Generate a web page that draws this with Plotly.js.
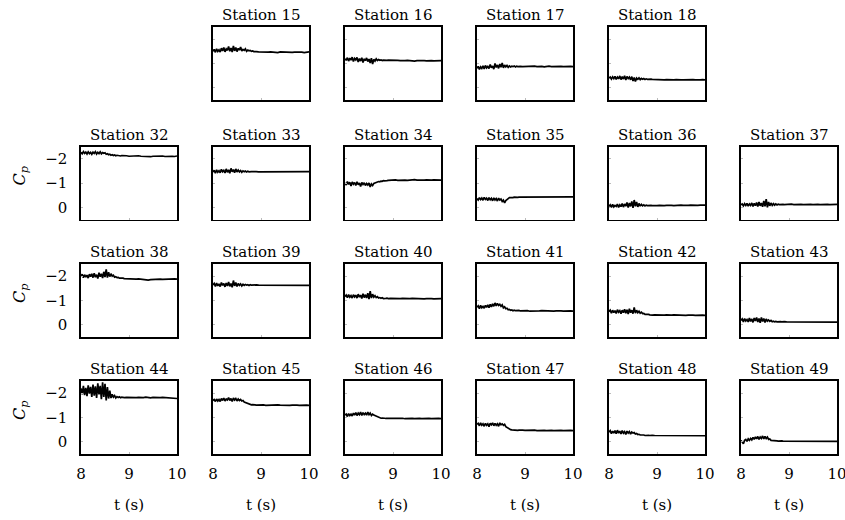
<!DOCTYPE html>
<html>
<head>
<meta charset="utf-8">
<script src="https://cdn.plot.ly/plotly-3.0.1.min.js"></script>
<style>html,body{margin:0;padding:0;background:#fff;}#chart{width:845px;height:520px;}</style>
</head>
<body>
<div id="chart"></div>
<script>
// time (s): dense during the noisy phase, coarser afterwards
const t = [8.000,8.025,8.050,8.075,8.100,8.125,8.150,8.175,8.200,8.225,8.250,8.275,8.300,8.325,8.350,8.375,8.400,8.425,
           8.450,8.475,8.500,8.525,8.550,8.575,8.600,8.625,8.650,8.675,8.700,8.725,8.750,8.775,8.800,8.825,8.850,8.875,
           8.90,8.95,9.00,9.05,9.10,9.15,9.20,9.25,9.30,9.35,9.40,9.45,9.50,9.55,9.60,9.65,9.70,9.75,9.80,9.85,9.90,9.95,10.00];

const xTicks = [8, 9, 10];
const yTicks = [-2, -1, 0];

// Cp series per station
const s15 = [-1.50,-1.58,-1.46,-1.60,-1.50,-1.56,-1.47,-1.63,-1.52,-1.66,-1.48,-1.60,-1.54,-1.70,-1.50,-1.64,-1.47,-1.72,
  -1.52,-1.66,-1.49,-1.62,-1.55,-1.68,-1.51,-1.58,-1.54,-1.60,-1.50,-1.55,-1.52,-1.54,-1.50,-1.52,-1.49,-1.50,
  -1.49,-1.48,-1.47,-1.48,-1.46,-1.47,-1.48,-1.46,-1.47,-1.45,-1.48,-1.47,-1.46,-1.48,-1.47,-1.46,-1.47,-1.48,-1.46,-1.47,-1.45,-1.47,-1.48];
const s16 = [-1.20,-1.13,-1.24,-1.10,-1.22,-1.14,-1.26,-1.08,-1.21,-1.15,-1.25,-1.06,-1.20,-1.10,-1.24,-1.04,-1.19,-1.12,
  -1.23,-1.08,-1.18,-1.02,-1.22,-0.98,-1.17,-1.10,-1.19,-1.12,-1.16,-1.13,-1.15,-1.12,-1.14,-1.13,-1.14,-1.13,
  -1.14,-1.13,-1.12,-1.11,-1.13,-1.12,-1.11,-1.12,-1.13,-1.11,-1.12,-1.10,-1.12,-1.13,-1.11,-1.12,-1.11,-1.13,-1.12,-1.11,-1.12,-1.13,-1.12];
const s17 = [-0.80,-0.88,-0.76,-0.86,-0.80,-0.90,-0.78,-0.92,-0.82,-0.88,-0.79,-0.96,-0.83,-0.90,-0.77,-1.00,-0.84,-0.94,
  -0.80,-0.98,-0.85,-1.02,-0.82,-0.94,-0.86,-0.92,-0.84,-0.90,-0.86,-0.89,-0.87,-0.90,-0.86,-0.89,-0.87,-0.88,
  -0.88,-0.87,-0.88,-0.89,-0.87,-0.88,-0.89,-0.87,-0.88,-0.88,-0.86,-0.88,-0.89,-0.87,-0.88,-0.87,-0.89,-0.88,-0.87,-0.88,-0.89,-0.88,-0.87];
const s18 = [-0.40,-0.44,-0.36,-0.45,-0.38,-0.47,-0.35,-0.44,-0.37,-0.49,-0.34,-0.46,-0.36,-0.50,-0.32,-0.47,-0.38,-0.44,
  -0.33,-0.46,-0.28,-0.42,-0.26,-0.40,-0.35,-0.41,-0.34,-0.39,-0.35,-0.38,-0.34,-0.37,-0.35,-0.36,-0.34,-0.36,
  -0.35,-0.34,-0.33,-0.34,-0.32,-0.33,-0.34,-0.33,-0.32,-0.33,-0.34,-0.32,-0.33,-0.33,-0.34,-0.32,-0.33,-0.34,-0.33,-0.32,-0.33,-0.34,-0.33];
const s32 = [-2.26,-2.20,-2.29,-2.22,-2.27,-2.19,-2.28,-2.21,-2.26,-2.18,-2.27,-2.22,-2.29,-2.19,-2.26,-2.21,-2.28,-2.20,
  -2.25,-2.22,-2.24,-2.18,-2.20,-2.16,-2.18,-2.14,-2.16,-2.13,-2.15,-2.12,-2.14,-2.12,-2.13,-2.11,-2.13,-2.12,
  -2.11,-2.12,-2.10,-2.11,-2.09,-2.10,-2.12,-2.10,-2.09,-2.11,-2.10,-2.08,-2.10,-2.11,-2.09,-2.10,-2.11,-2.09,-2.10,-2.12,-2.10,-2.09,-2.11];
const s33 = [-1.45,-1.52,-1.40,-1.54,-1.44,-1.50,-1.42,-1.56,-1.46,-1.52,-1.41,-1.58,-1.44,-1.54,-1.40,-1.60,-1.46,-1.55,
  -1.42,-1.58,-1.45,-1.53,-1.46,-1.51,-1.44,-1.50,-1.46,-1.49,-1.45,-1.48,-1.46,-1.48,-1.47,-1.47,-1.46,-1.48,
  -1.47,-1.46,-1.46,-1.47,-1.45,-1.46,-1.47,-1.45,-1.46,-1.44,-1.46,-1.47,-1.45,-1.46,-1.47,-1.45,-1.46,-1.44,-1.46,-1.47,-1.46,-1.45,-1.47];
const s34 = [-1.00,-0.92,-1.06,-0.94,-1.03,-0.88,-1.04,-0.95,-1.02,-0.90,-1.05,-0.93,-1.00,-0.86,-1.02,-0.94,-1.01,-0.90,
  -0.98,-0.92,-1.00,-0.84,-0.96,-0.90,-0.98,-1.00,-1.03,-1.02,-1.06,-1.05,-1.08,-1.07,-1.10,-1.09,-1.11,-1.10,
  -1.11,-1.12,-1.12,-1.13,-1.11,-1.12,-1.13,-1.12,-1.11,-1.13,-1.12,-1.14,-1.12,-1.11,-1.13,-1.12,-1.13,-1.11,-1.12,-1.13,-1.12,-1.14,-1.12];
const s35 = [-0.36,-0.30,-0.40,-0.32,-0.38,-0.29,-0.41,-0.33,-0.38,-0.28,-0.40,-0.31,-0.37,-0.27,-0.39,-0.30,-0.36,-0.26,
  -0.38,-0.30,-0.34,-0.24,-0.30,-0.18,-0.28,-0.34,-0.36,-0.40,-0.39,-0.41,-0.40,-0.42,-0.41,-0.42,-0.41,-0.42,
  -0.42,-0.43,-0.43,-0.44,-0.42,-0.43,-0.44,-0.43,-0.42,-0.43,-0.44,-0.43,-0.42,-0.44,-0.43,-0.42,-0.43,-0.44,-0.43,-0.42,-0.43,-0.44,-0.43];
const s36 = [-0.04,-0.10,0.00,-0.12,-0.02,-0.08,-0.04,-0.13,0.00,-0.10,-0.03,-0.16,-0.01,-0.14,-0.05,-0.20,0.01,-0.18,
  -0.04,-0.24,0.02,-0.30,-0.04,-0.22,-0.02,-0.16,-0.05,-0.12,-0.06,-0.10,-0.06,-0.09,-0.07,-0.08,-0.06,-0.08,
  -0.07,-0.06,-0.07,-0.08,-0.06,-0.07,-0.08,-0.09,-0.08,-0.07,-0.08,-0.10,-0.09,-0.08,-0.07,-0.08,-0.09,-0.08,-0.07,-0.08,-0.09,-0.08,-0.09];
const s37 = [-0.10,-0.14,-0.06,-0.15,-0.08,-0.16,-0.05,-0.14,-0.08,-0.18,-0.04,-0.16,-0.07,-0.20,-0.03,-0.22,-0.06,-0.18,
  -0.02,-0.26,-0.04,-0.34,0.00,-0.22,-0.06,-0.18,-0.08,-0.15,-0.09,-0.14,-0.10,-0.13,-0.11,-0.12,-0.10,-0.12,
  -0.11,-0.12,-0.12,-0.13,-0.11,-0.12,-0.13,-0.12,-0.11,-0.12,-0.13,-0.12,-0.11,-0.13,-0.12,-0.11,-0.12,-0.13,-0.12,-0.11,-0.12,-0.13,-0.12];
const s38 = [-2.00,-2.08,-1.94,-2.06,-1.96,-2.04,-1.92,-2.08,-1.98,-2.10,-1.94,-2.12,-1.96,-2.06,-1.90,-2.14,-1.98,-2.10,
  -1.92,-2.18,-1.96,-2.28,-1.94,-2.16,-1.98,-2.10,-2.00,-2.04,-1.96,-1.98,-1.94,-1.95,-1.92,-1.93,-1.91,-1.92,
  -1.90,-1.89,-1.88,-1.89,-1.87,-1.88,-1.89,-1.87,-1.88,-1.86,-1.84,-1.86,-1.87,-1.88,-1.89,-1.88,-1.87,-1.88,-1.89,-1.87,-1.88,-1.89,-1.88];
const s39 = [-1.64,-1.70,-1.58,-1.72,-1.60,-1.68,-1.57,-1.74,-1.62,-1.70,-1.56,-1.72,-1.60,-1.76,-1.58,-1.70,-1.54,-1.82,
  -1.60,-1.74,-1.58,-1.70,-1.62,-1.68,-1.60,-1.67,-1.62,-1.66,-1.63,-1.65,-1.62,-1.65,-1.63,-1.64,-1.63,-1.65,
  -1.64,-1.63,-1.63,-1.64,-1.62,-1.63,-1.64,-1.62,-1.63,-1.64,-1.63,-1.62,-1.64,-1.63,-1.62,-1.63,-1.64,-1.63,-1.62,-1.63,-1.64,-1.63,-1.62];
const s40 = [-1.16,-1.22,-1.12,-1.24,-1.14,-1.20,-1.10,-1.24,-1.15,-1.22,-1.10,-1.26,-1.14,-1.22,-1.08,-1.28,-1.12,-1.24,
  -1.10,-1.30,-1.06,-1.38,-1.10,-1.26,-1.14,-1.20,-1.12,-1.16,-1.10,-1.12,-1.09,-1.11,-1.08,-1.10,-1.09,-1.10,
  -1.08,-1.09,-1.08,-1.09,-1.07,-1.08,-1.09,-1.08,-1.07,-1.08,-1.09,-1.08,-1.07,-1.09,-1.08,-1.07,-1.08,-1.09,-1.08,-1.07,-1.08,-1.09,-1.08];
const s41 = [-0.72,-0.78,-0.66,-0.80,-0.70,-0.76,-0.68,-0.80,-0.72,-0.82,-0.70,-0.84,-0.74,-0.86,-0.76,-0.90,-0.78,-0.88,
  -0.80,-0.84,-0.76,-0.82,-0.70,-0.74,-0.66,-0.68,-0.62,-0.63,-0.60,-0.61,-0.58,-0.60,-0.58,-0.59,-0.57,-0.59,
  -0.57,-0.58,-0.57,-0.58,-0.56,-0.57,-0.58,-0.56,-0.57,-0.58,-0.57,-0.56,-0.58,-0.57,-0.56,-0.57,-0.58,-0.57,-0.56,-0.57,-0.58,-0.57,-0.56];
const s42 = [-0.54,-0.60,-0.48,-0.60,-0.50,-0.58,-0.47,-0.62,-0.52,-0.58,-0.46,-0.60,-0.50,-0.64,-0.48,-0.62,-0.44,-0.66,
  -0.50,-0.60,-0.46,-0.72,-0.48,-0.60,-0.50,-0.56,-0.48,-0.52,-0.46,-0.47,-0.43,-0.44,-0.42,-0.43,-0.41,-0.42,
  -0.40,-0.41,-0.40,-0.41,-0.39,-0.40,-0.41,-0.39,-0.40,-0.41,-0.40,-0.39,-0.41,-0.40,-0.39,-0.40,-0.41,-0.40,-0.39,-0.40,-0.41,-0.40,-0.39];
const s43 = [-0.18,-0.24,-0.12,-0.26,-0.16,-0.22,-0.12,-0.28,-0.14,-0.24,-0.10,-0.28,-0.16,-0.30,-0.12,-0.26,-0.08,-0.30,
  -0.14,-0.26,-0.10,-0.24,-0.15,-0.20,-0.14,-0.18,-0.13,-0.15,-0.12,-0.14,-0.12,-0.13,-0.12,-0.13,-0.12,-0.13,
  -0.13,-0.12,-0.12,-0.13,-0.11,-0.12,-0.13,-0.11,-0.12,-0.13,-0.12,-0.11,-0.13,-0.12,-0.11,-0.12,-0.13,-0.12,-0.11,-0.12,-0.13,-0.12,-0.11];
const s44 = [-2.20,-1.95,-2.30,-1.92,-2.22,-1.88,-2.32,-1.98,-2.26,-1.85,-2.35,-1.90,-2.28,-1.80,-2.40,-1.95,-2.30,-1.75,
  -2.45,-1.85,-2.38,-1.70,-2.25,-1.78,-2.10,-1.80,-1.95,-1.84,-1.90,-1.80,-1.86,-1.82,-1.85,-1.81,-1.84,-1.82,
  -1.82,-1.83,-1.82,-1.83,-1.81,-1.82,-1.83,-1.81,-1.82,-1.84,-1.82,-1.81,-1.83,-1.82,-1.81,-1.82,-1.83,-1.82,-1.80,-1.78,-1.80,-1.76,-1.78];
const s45 = [-1.70,-1.74,-1.66,-1.76,-1.68,-1.74,-1.66,-1.78,-1.70,-1.80,-1.68,-1.76,-1.72,-1.82,-1.70,-1.78,-1.66,-1.80,
  -1.72,-1.78,-1.68,-1.76,-1.70,-1.74,-1.68,-1.70,-1.64,-1.62,-1.58,-1.56,-1.54,-1.53,-1.52,-1.53,-1.51,-1.52,
  -1.51,-1.52,-1.51,-1.52,-1.50,-1.51,-1.52,-1.50,-1.51,-1.52,-1.51,-1.50,-1.52,-1.51,-1.50,-1.51,-1.52,-1.51,-1.50,-1.51,-1.52,-1.51,-1.50];
const s46 = [-1.10,-1.14,-1.04,-1.16,-1.08,-1.14,-1.06,-1.18,-1.10,-1.20,-1.08,-1.18,-1.12,-1.22,-1.08,-1.20,-1.12,-1.18,
  -1.10,-1.22,-1.12,-1.18,-1.08,-1.14,-1.10,-1.08,-1.04,-1.02,-0.99,-0.98,-0.97,-0.98,-0.96,-0.97,-0.96,-0.97,
  -0.96,-0.97,-0.96,-0.97,-0.95,-0.96,-0.97,-0.95,-0.96,-0.97,-0.96,-0.95,-0.97,-0.96,-0.95,-0.96,-0.97,-0.96,-0.95,-0.96,-0.97,-0.96,-0.95];
const s47 = [-0.72,-0.76,-0.66,-0.78,-0.68,-0.74,-0.64,-0.76,-0.68,-0.74,-0.62,-0.76,-0.70,-0.78,-0.66,-0.76,-0.68,-0.74,
  -0.64,-0.78,-0.70,-0.74,-0.68,-0.72,-0.62,-0.58,-0.54,-0.51,-0.50,-0.49,-0.48,-0.49,-0.47,-0.48,-0.47,-0.48,
  -0.47,-0.48,-0.47,-0.48,-0.46,-0.47,-0.48,-0.46,-0.47,-0.48,-0.47,-0.46,-0.48,-0.47,-0.46,-0.47,-0.48,-0.47,-0.46,-0.47,-0.48,-0.47,-0.46];
const s48 = [-0.40,-0.46,-0.34,-0.44,-0.36,-0.46,-0.33,-0.48,-0.36,-0.44,-0.32,-0.46,-0.36,-0.42,-0.30,-0.44,-0.36,-0.42,
  -0.32,-0.40,-0.36,-0.38,-0.32,-0.34,-0.30,-0.31,-0.28,-0.29,-0.27,-0.28,-0.26,-0.27,-0.26,-0.27,-0.26,-0.27,
  -0.27,-0.26,-0.26,-0.27,-0.25,-0.26,-0.27,-0.25,-0.26,-0.27,-0.26,-0.25,-0.27,-0.26,-0.25,-0.26,-0.27,-0.26,-0.25,-0.26,-0.27,-0.26,-0.25];
const s49 = [-0.06,0.04,0.08,-0.06,-0.10,-0.02,-0.12,-0.06,-0.14,-0.08,-0.18,-0.10,-0.20,-0.12,-0.22,-0.10,-0.20,-0.14,
  -0.24,-0.12,-0.22,-0.14,-0.20,-0.10,-0.12,-0.06,-0.05,-0.04,-0.05,-0.03,-0.04,-0.03,-0.04,-0.03,-0.04,-0.03,
  -0.03,-0.04,-0.03,-0.04,-0.02,-0.03,-0.04,-0.02,-0.03,-0.04,-0.03,-0.02,-0.04,-0.03,-0.02,-0.03,-0.04,-0.03,-0.02,-0.03,-0.04,-0.03,-0.02];

// station name, grid row, grid column, series
const stations = [
  ["Station 15",0,1,s15],["Station 16",0,2,s16],["Station 17",0,3,s17],["Station 18",0,4,s18],
  ["Station 32",1,0,s32],["Station 33",1,1,s33],["Station 34",1,2,s34],["Station 35",1,3,s35],["Station 36",1,4,s36],["Station 37",1,5,s37],
  ["Station 38",2,0,s38],["Station 39",2,1,s39],["Station 40",2,2,s40],["Station 41",2,3,s41],["Station 42",2,4,s42],["Station 43",2,5,s43],
  ["Station 44",3,0,s44],["Station 45",3,1,s45],["Station 46",3,2,s46],["Station 47",3,3,s47],["Station 48",3,4,s48],["Station 49",3,5,s49]
];

const W = 845, H = 520;
const colLeft = [81, 213, 345, 477, 609, 741];
const boxW = 96;
const rowTop = [27, 146.5, 264, 381];
const boxH = 73;
const serif = "DejaVu Serif";
const fs = 15;

const traces = [];
const layout = {
  width: W, height: H,
  margin: {l: 0, r: 0, t: 0, b: 0},
  paper_bgcolor: "#fff", plot_bgcolor: "#fff",
  showlegend: false,
  font: {family: serif, size: fs, color: "#000"},
  annotations: []
};

stations.forEach((s, i) => {
  const [name, r, c, y] = s;
  const n = i + 1;
  const xa = "x" + n, ya = "y" + n;
  traces.push({x: t, y: y, xaxis: xa, yaxis: ya, type: "scatter", mode: "lines",
               line: {color: "#000", width: 1.7}, hoverinfo: "skip"});
  const x0 = colLeft[c] / W, x1 = (colLeft[c] + boxW) / W;
  const y1 = 1 - rowTop[r] / H, y0 = 1 - (rowTop[r] + boxH) / H;
  const bottom = r === 3, left = c === 0;
  const xaxis = {
    domain: [x0, x1], range: [8, 10], anchor: ya,
    showline: true, mirror: true, linecolor: "#000", linewidth: 1.6,
    showgrid: false, zeroline: false,
    tickvals: xTicks, ticktext: xTicks.map(String),
    showticklabels: bottom, ticks: "inside", ticklen: 2, tickcolor: "#bbb",
    tickfont: {family: serif, size: fs, color: "#000"},
    ticklabelstandoff: 5, ticklabeloverflow: "allow"
  };
  if (bottom) xaxis.title = {text: "t (s)", font: {family: serif, size: fs, color: "#000"}, standoff: 18};
  layout["xaxis" + n] = xaxis;
  layout["yaxis" + n] = {
    domain: [y0, y1], range: [0.5, -2.5], anchor: xa,
    showline: true, mirror: true, linecolor: "#000", linewidth: 1.6,
    showgrid: false, zeroline: false,
    tickvals: yTicks, ticktext: ["\u22122", "\u22121", "0"],
    showticklabels: left, ticks: "inside", ticklen: 2, tickcolor: "#bbb",
    tickfont: {family: serif, size: fs, color: "#000"},
    ticklabelstandoff: 9
  };
  layout.annotations.push({
    text: name, xref: "paper", yref: "paper",
    x: (colLeft[c] + boxW / 2) / W, y: 1 - (rowTop[r] - 1) / H,
    xanchor: "center", yanchor: "bottom", showarrow: false,
    font: {family: serif, size: fs, color: "#000"}
  });
  if (left) {
    layout.annotations.push({
      text: "<i>C<sub>p</sub></i>", xref: "paper", yref: "paper",
      x: 20 / W, y: 1 - (rowTop[r] + 30) / H,
      xanchor: "center", yanchor: "middle", textangle: -90, showarrow: false,
      font: {family: serif, size: 16, color: "#000"}
    });
  }
});

Plotly.newPlot("chart", traces, layout, {staticPlot: true, displayModeBar: false});
</script>
</body>
</html>
